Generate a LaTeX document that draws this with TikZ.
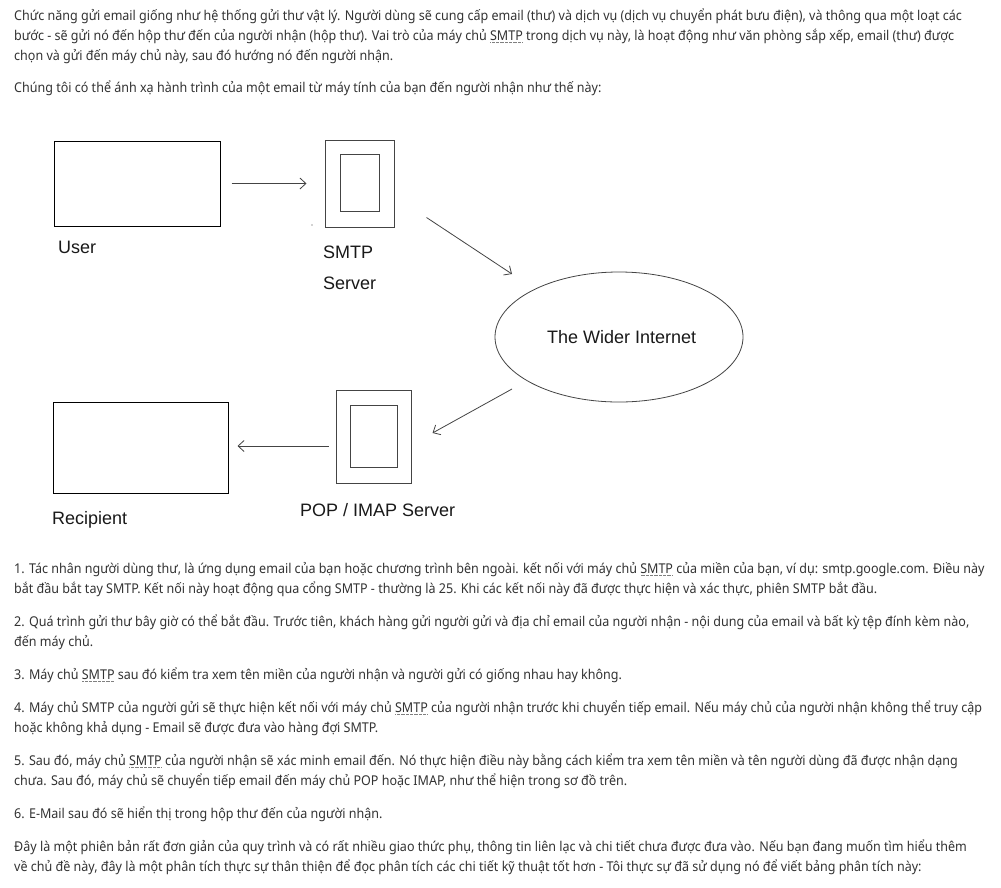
\documentclass[tikz,border=0pt]{standalone}
\usepackage{fontspec}
\setmainfont[FakeStretch=0.928]{Noto Sans}
\newfontfamily\diagfont{Liberation Sans}
\usetikzlibrary{arrows.meta,shapes.geometric}
\definecolor{txt}{HTML}{333333}
\definecolor{ln}{HTML}{444444}
\newcommand\dsm{\setbox0\hbox{SMTP}\rlap{\raisebox{-2.6pt}{\hbox to \wd0{\color{gray}\leaders\hbox to 1.3pt{\hss\vrule width .7pt height .7pt\hss}\hfill}}}\box0}
\tikzset{
  x=1pt,y=-1pt,
  para/.style={anchor=base west,inner sep=0,text=txt,font=\fontsize{13.5}{16}\selectfont},
  box/.style={draw=black,line width=1pt,inner sep=0,minimum width=#1},
  lab/.style={anchor=base west,inner sep=0,text=black!90,font=\diagfont\fontsize{18}{20}\selectfont},
  arr/.style={draw=ln,line width=0.8pt,-{Straight Barb[length=6pt,width=11pt]}},
}
\begin{document}
\begin{tikzpicture}
\useasboundingbox[fill=white] (0,0) rectangle (1001,887);
% text
\node[para] (p1a) at (14,20.5) {Chức năng gửi email giống như hệ thống gửi thư vật lý. Người dùng sẽ cung cấp email (thư) và dịch vụ (dịch vụ chuyển phát bưu điện), và thông qua một loạt các};
\node[para] (p1b) at (14,40.5) {bước - sẽ gửi nó đến hộp thư đến của người nhận (hộp thư). Vai trò của máy chủ \dsm{} trong dịch vụ này, là hoạt động như văn phòng sắp xếp, email (thư) được};
\node[para] (p1c) at (14,60.5) {chọn và gửi đến máy chủ này, sau đó hướng nó đến người nhận.};
\node[para] (p2) at (14,92) {Chúng tôi có thể ánh xạ hành trình của một email từ máy tính của bạn đến người nhận như thế này:};
\node[para] (i1a) at (14,573) {1. Tác nhân người dùng thư, là ứng dụng email của bạn hoặc chương trình bên ngoài. kết nối với máy chủ \dsm{} của miền của bạn, ví dụ: smtp.google.com. Điều này};
\node[para] (i1b) at (14,593) {bắt đầu bắt tay SMTP. Kết nối này hoạt động qua cổng SMTP - thường là 25. Khi các kết nối này đã được thực hiện và xác thực, phiên SMTP bắt đầu.};
\node[para] (i2a) at (14,626) {2. Quá trình gửi thư bây giờ có thể bắt đầu. Trước tiên, khách hàng gửi người gửi và địa chỉ email của người nhận - nội dung của email và bất kỳ tệp đính kèm nào,};
\node[para] (i2b) at (14,646) {đến máy chủ.};
\node[para] (i3) at (14,679) {3. Máy chủ \dsm{} sau đó kiểm tra xem tên miền của người nhận và người gửi có giống nhau hay không.};
\node[para] (i4a) at (14,712) {4. Máy chủ SMTP của người gửi sẽ thực hiện kết nối với máy chủ \dsm{} của người nhận trước khi chuyển tiếp email. Nếu máy chủ của người nhận không thể truy cập};
\node[para] (i4b) at (14,732) {hoặc không khả dụng - Email sẽ được đưa vào hàng đợi SMTP.};
\node[para] (i5a) at (14,765) {5. Sau đó, máy chủ \dsm{} của người nhận sẽ xác minh email đến. Nó thực hiện điều này bằng cách kiểm tra xem tên miền và tên người dùng đã được nhận dạng};
\node[para] (i5b) at (14,785) {chưa. Sau đó, máy chủ sẽ chuyển tiếp email đến máy chủ POP hoặc IMAP, như thể hiện trong sơ đồ trên.};
\node[para] (i6) at (14,818) {6. E-Mail sau đó sẽ hiển thị trong hộp thư đến của người nhận.};
\node[para] (i7a) at (14,851) {Đây là một phiên bản rất đơn giản của quy trình và có rất nhiều giao thức phụ, thông tin liên lạc và chi tiết chưa được đưa vào. Nếu bạn đang muốn tìm hiểu thêm};
\node[para] (i7b) at (14,871) {về chủ đề này, đây là một phân tích thực sự thân thiện để đọc phân tích các chi tiết kỹ thuật tốt hơn - Tôi thực sự đã sử dụng nó để viết bảng phân tích này:};
% diagram
\node[box=166pt,minimum height=85pt] (user) at (137,183.5) {};
\node[box=69pt,minimum height=87pt,draw=ln] (smtp) at (359.5,183.5) {};
\node[box=39pt,minimum height=57pt,draw=ln] (smtpin) at (359.5,182.5) {};
\node[draw=ln,line width=0.8pt,ellipse,minimum width=248pt,minimum height=130pt,inner sep=0] (inet) at (619,337) {};
\node[box=75pt,minimum height=93pt,draw=ln] (pop) at (373.5,436.5) {};
\node[box=47pt,minimum height=62pt,draw=ln] (popin) at (373.5,436) {};
\node[box=175pt,minimum height=91pt] (recip) at (140.5,447.5) {};
\node[lab] (userl) at (58,253) {User};
\node[lab] (smtpl1) at (323,258) {SMTP};
\node[lab] (smtpl2) at (323,289) {Server};
\node[lab] (inetl) at (547,343) {The Wider Internet};
\node[lab] (popl) at (300,516) {POP / IMAP Server};
\node[lab] (recipl) at (52,524) {Recipient};
\fill[ln] (312,225) circle (0.6);
\draw[arr] ([xshift=11pt]user.east) -- ([xshift=-18pt]smtp.west);
\draw[arr] ([shift={(32pt,10pt)}]smtp.south east) -- ([shift={(-107pt,63pt)}]inet.center);
\draw[arr] ([shift={(-107pt,-52pt)}]inet.center) -- ([shift={(21pt,3.5pt)}]pop.east);
\draw[arr] ([shift={(-7pt,-9.5pt)}]pop.west) -- ([shift={(9pt,1.5pt)}]recip.east);
\end{tikzpicture}
\end{document}
